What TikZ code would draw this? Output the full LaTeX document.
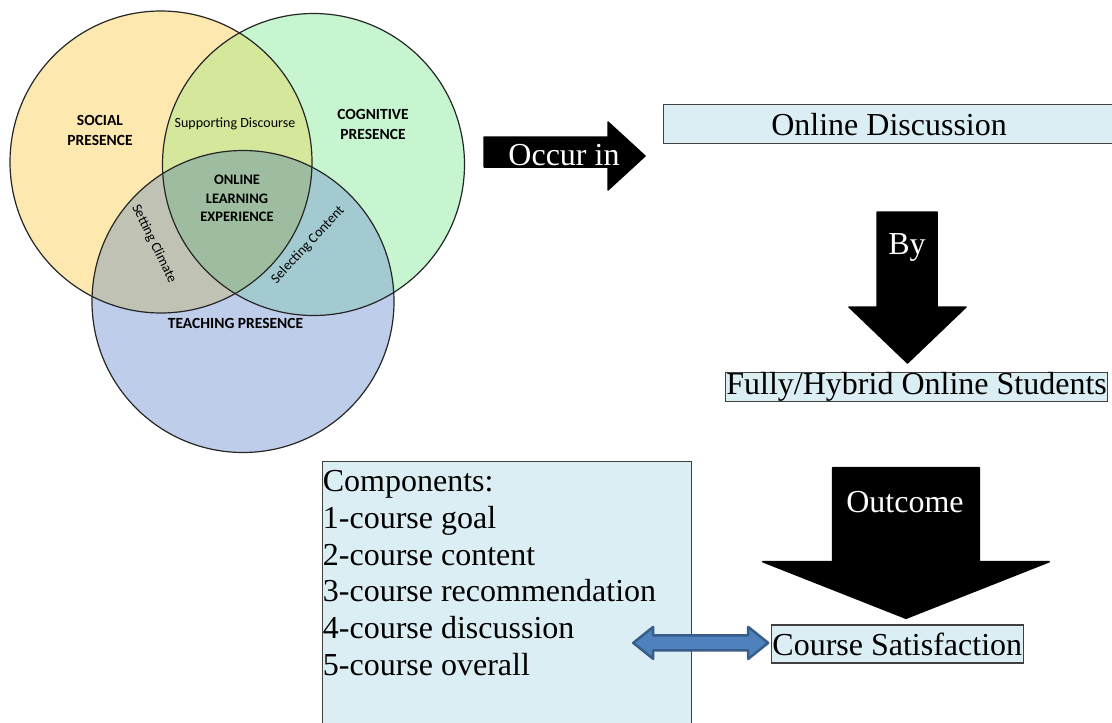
\documentclass[tikz,border=0pt]{standalone}
\usepackage{fontspec}
\setmainfont{Liberation Serif}
\newfontfamily\vennfont{Carlito}
\usetikzlibrary{calc}

\definecolor{SocialFill}{HTML}{FDE8B0}
\definecolor{CognitiveFill}{HTML}{C7F5D0}
\definecolor{TeachingFill}{HTML}{BECDEA}
\definecolor{SocCogFill}{HTML}{D4E79B}
\definecolor{SocTeachFill}{HTML}{C0C3B4}
\definecolor{CogTeachFill}{HTML}{A2CAD0}
\definecolor{AllFill}{HTML}{9EBDA0}
\definecolor{BoxFill}{HTML}{DBEEF4}
\definecolor{LinkFill}{HTML}{4F81BD}
\definecolor{LinkLine}{HTML}{385D8A}

\tikzset{
  InfoBox/.style={draw=black!75, fill=BoxFill, line width=1.2pt, inner sep=0pt,
    font=\fontsize{32}{36.7}\selectfont},
  ListLine/.style={anchor=base west, inner sep=0pt, font=\fontsize{32}{36.7}\selectfont},
  BlockArrow/.style={fill=black, draw=black, line width=1.5pt, line join=round},
  ArrowText/.style={text=white, inner sep=0pt, font=\fontsize{32}{36.7}\selectfont},
  LinkArrow/.style={fill=LinkFill, draw=LinkLine, line width=2.5pt, line join=round},
  VennLine/.style={draw=black!85, line width=1.2pt},
  VennBold/.style={align=center, inner sep=0pt,
    font=\vennfont\fontsize{15.5}{20}\selectfont\bfseries},
  VennCore/.style={align=center, inner sep=0pt,
    font=\vennfont\fontsize{14.5}{18.5}\selectfont\bfseries},
  VennPlain/.style={inner sep=0pt, font=\vennfont\fontsize{14}{16}\selectfont}
}

\begin{document}
\begin{tikzpicture}[x=1pt, y=-1pt]

    \useasboundingbox (0,0) rectangle (1112,723);

    % three presences
    \coordinate (SocialCtr) at (161,162);
    \coordinate (CognitiveCtr) at (313.5,164.5);
    \coordinate (TeachingCtr) at (243,301.5);

    \fill[SocialFill] (SocialCtr) circle (151pt);
    \fill[CognitiveFill] (CognitiveCtr) circle (151pt);
    \fill[TeachingFill] (TeachingCtr) circle (151pt);

    \begin{scope}
      \clip (SocialCtr) circle (151pt);
      \fill[SocCogFill] (CognitiveCtr) circle (151pt);
      \fill[SocTeachFill] (TeachingCtr) circle (151pt);
    \end{scope}
    \begin{scope}
      \clip (CognitiveCtr) circle (151pt);
      \fill[CogTeachFill] (TeachingCtr) circle (151pt);
    \end{scope}
    \begin{scope}
      \clip (SocialCtr) circle (151pt);
      \clip (CognitiveCtr) circle (151pt);
      \fill[AllFill] (TeachingCtr) circle (151pt);
    \end{scope}

    \draw[VennLine] (SocialCtr) circle (151pt);
    \draw[VennLine] (CognitiveCtr) circle (151pt);
    \draw[VennLine] (TeachingCtr) circle (151pt);

    \node[VennBold] (SocialLbl) at (100,130.5) {SOCIAL\\PRESENCE};
    \node[VennBold] (CognitiveLbl) at (373,124) {COGNITIVE\\PRESENCE};
    \node[VennBold] (TeachingLbl) at (235.5,323) {TEACHING PRESENCE};
    \node[VennCore] (CoreLbl) at (237,198.5) {ONLINE\\LEARNING\\EXPERIENCE};
    \node[VennPlain] (DiscourseLbl) at (235,124) {Supporting Discourse};
    \node[VennPlain, rotate=-64] (ClimateLbl) at (154,244) {Setting Climate};
    \node[VennPlain, rotate=47] (ContentLbl) at (308,245) {Selecting Content};

    % occur in
    \coordinate (OccurTip) at (645,156);
    \filldraw[BlockArrow] (484,137) -- (608,137) -- (608,122) -- (OccurTip)
    -- (608,190) -- (608,167) -- (484,167) -- cycle;
    \node[ArrowText] (OccurText) at (564,155) {Occur in};

    \node[InfoBox, minimum width=451pt, minimum height=39pt, anchor=north west]
    (DiscBox) at (663,104) {Online Discussion};

    % by
    \coordinate (ByTip) at (907.5,363);
    \filldraw[BlockArrow] (877,212) -- (937,212) -- (937,307) -- (966,307) -- (ByTip)
    -- (849,307) -- (877,307) -- cycle;
    \node[ArrowText] (ByText) at (907,247) {By};

    \node[InfoBox, minimum width=382pt, minimum height=28pt, anchor=north west]
    (StudentBox) at (725,372) {Fully/Hybrid Online Students};

    % outcome
    \coordinate (OutcomeTip) at (906,618.3);
    \filldraw[BlockArrow] (832.7,467.7) -- (979.3,467.7) -- (979.3,561.7) -- (1049.3,561.7)
    -- (OutcomeTip) -- (762.7,561.7) -- (832.7,561.7) -- cycle;
    \node[ArrowText] (OutcomeText) at (905,501.7) {Outcome};

    \node[InfoBox, minimum width=252pt, minimum height=38pt, anchor=north west]
    (SatBox) at (770.7,624.3) {Course Satisfaction};

    % components
    \node[InfoBox, minimum width=369pt, minimum height=290pt, anchor=north west]
    (CompBox) at (321.7,461) {};
    \foreach \txt [count=\i from 0] in {Components:, 1-course goal, 2-course content,
      3-course recommendation, 4-course discussion, 5-course overall}
      \node[ListLine] (CompLine\i) at (322.7,491.7+\i*36.7) {\txt};

    % link
    \coordinate (LinkRight) at ($(SatBox.west)+(-2.5,-1)$);
    \coordinate (LinkLeft) at ($(LinkRight)+(-135,0)$);
    \draw[LinkArrow] (LinkLeft) -- ++(20,-16) -- ++(0,8.5) -- ++(95,0) -- ++(0,-8.5)
    -- (LinkRight) -- ++(-20,16) -- ++(0,-8.5) -- ++(-95,0) -- ++(0,8.5) -- cycle;

  \end{tikzpicture}
\end{document}
